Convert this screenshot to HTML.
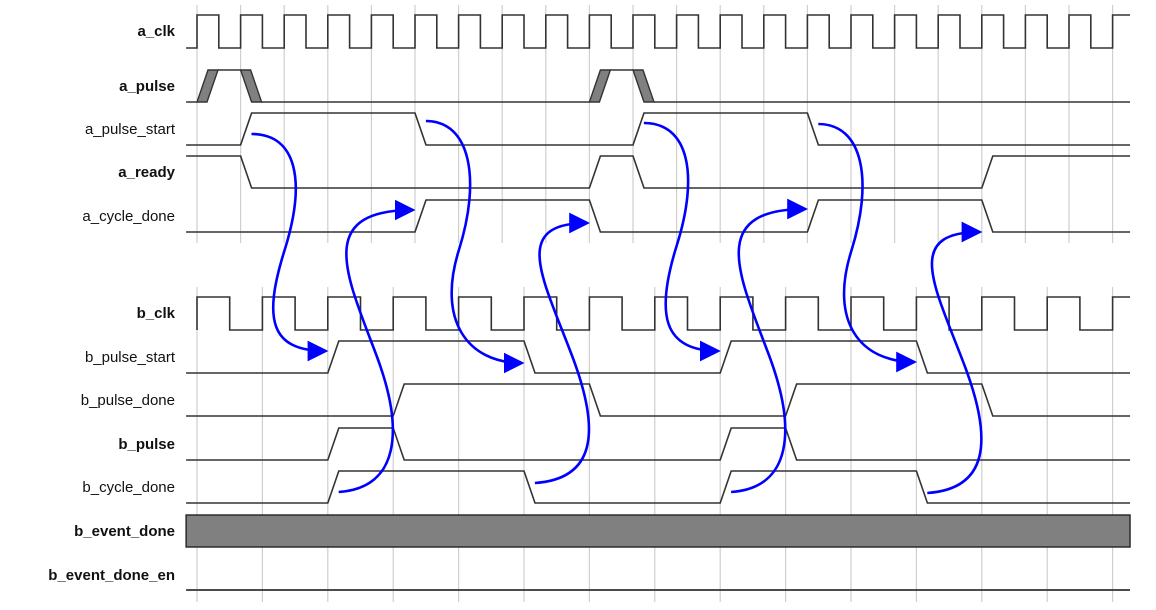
<!DOCTYPE html>
<html><head><meta charset="utf-8"><style>
html,body{margin:0;padding:0;background:#fff;width:1156px;height:610px;overflow:hidden}
svg{display:block}
text{font-family:"Liberation Sans",Arial,sans-serif;font-size:15px;fill:#111}
</style></head><body>
<svg id="chart" width="1156" height="610" xmlns="http://www.w3.org/2000/svg">
<defs><marker id="ah" markerWidth="8" markerHeight="8" refX="7" refY="4" orient="auto" markerUnits="strokeWidth"><path d="M0,0 L8,4 L0,8 z" fill="#0000ff"/></marker></defs>
<g id="grid"></g><g id="waves"></g><g id="labels"></g><g id="arrows"></g>
</svg>
<script>
// time unit = half a_clk period
const signalNames = ["a_clk","a_pulse","a_pulse_start","a_ready","a_cycle_done","b_clk","b_pulse_start","b_pulse_done","b_pulse","b_cycle_done","b_event_done","b_event_done_en"];
const boldSignals = ["a_clk","a_pulse","a_ready","b_clk","b_pulse","b_event_done","b_event_done_en"];
const aPulseStartEdges = [2,10,20,28];
const aReadyEdges = [2,18,20,36];
const aCycleDoneEdges = [10,18,28,36];
const aPulseEdges = [0,2,18,20];
const bPulseStartEdges = [6,15,24,33];
const bPulseDoneEdges = [9,18,27,36];
const bPulseEdges = [6,9,24,27];
const bCycleDoneEdges = [6,15,24,33];
const arrowsFrom = [[2.5,134],[10.5,121],[6.5,492],[15.5,483],[20.5,123],[28.5,124],[24.5,492],[33.5,493]];
const arrowsTo = [[6,351],[15,363],[10,210],[18,223],[24,351],[33,362],[28,209],[36,232]];

const NS="http://www.w3.org/2000/svg";
const X0=197, U=21.8, TEND=42.8, TSTART=-0.5, TR=11;
const x=t=>X0+t*U;
function el(tag,attrs,parent){const e=document.createElementNS(NS,tag);for(const k in attrs)e.setAttribute(k,attrs[k]);parent.appendChild(e);return e;}
const grid=document.getElementById('grid'),waves=document.getElementById('waves'),labels=document.getElementById('labels'),arrows=document.getElementById('arrows');
const levels={a_clk:[15,48],a_pulse:[70,102],a_pulse_start:[113,145],a_ready:[156,188],a_cycle_done:[200,232],b_clk:[297,330],b_pulse_start:[341,373],b_pulse_done:[384,416],b_pulse:[428,460],b_cycle_done:[471,503],b_event_done:[515,547],b_event_done_en:[590,590]};
const labelY={a_clk:31,a_pulse:86,a_pulse_start:129,a_ready:172,a_cycle_done:216,b_clk:313,b_pulse_start:357,b_pulse_done:400,b_pulse:444,b_cycle_done:487,b_event_done:531,b_event_done_en:575};

for(let t=0;t<=42;t+=2){const l=el('line',{x1:x(t),x2:x(t),y1:5,y2:243,stroke:'#cfcfcf','stroke-width':1.2},grid);

}
for(let t=0;t<=42;t+=3){const l=el('line',{x1:x(t),x2:x(t),y1:287,y2:602,stroke:'#cfcfcf','stroke-width':1.2},grid);

}

signalNames.forEach(n=>{const tx=el('text',{x:175,y:labelY[n]+5,'text-anchor':'end','font-weight':boldSignals.includes(n)?'bold':'normal'},labels);tx.textContent=n;

});

function clock(name,half,startX){const [h,lo]=levels[name];let d=`M${startX},${lo}`;let v=0;
for(let t=0;t<TEND;t+=half){d+=` L${x(t)},${v?h:lo} L${x(t)},${v?lo:h}`;v=1-v;}
d+=` L${x(TEND)},${v?h:lo}`;const p=el('path',{d,fill:'none',stroke:'#333','stroke-width':1.6},waves);

}
clock('a_clk',1,x(TSTART));
clock('b_clk',1.5,x(0));

function wave(name,init,edges){const [h,lo]=levels[name];let v=init;let d=`M${x(TSTART)},${v?h:lo}`;
edges.forEach(t=>{d+=` L${x(t)},${v?h:lo} L${x(t)+TR},${v?lo:h}`;v=1-v;});
d+=` L${x(TEND)},${v?h:lo}`;const p=el('path',{d,fill:'none',stroke:'#333','stroke-width':1.6},waves);

}
wave('a_pulse_start',0,aPulseStartEdges);
wave('a_ready',1,aReadyEdges);
wave('a_cycle_done',0,aCycleDoneEdges);
wave('b_pulse_start',0,bPulseStartEdges);
wave('b_pulse_done',0,bPulseDoneEdges);
wave('b_pulse',0,bPulseEdges);
wave('b_cycle_done',0,bCycleDoneEdges);

(function(){const [h,lo]=levels.a_pulse;let v=0;let d=`M${x(TSTART)},${lo}`;
aPulseEdges.forEach(t=>{const a=x(t);
const poly=v?`${a},${h} ${a+10},${h} ${a+21},${lo} ${a+11},${lo}`:`${a},${lo} ${a+10},${lo} ${a+21},${h} ${a+11},${h}`;
const g=el('polygon',{points:poly,fill:'#808080',stroke:'#333','stroke-width':1.4},waves);


d+=` L${a},${v?h:lo} M${a+21},${v?lo:h}`;v=1-v;});
d+=` L${x(TEND)},${v?h:lo}`;
const p=el('path',{d,fill:'none',stroke:'#333','stroke-width':1.6},waves);

})();

(function(){const [h,lo]=levels.b_event_done;const r=el('rect',{x:x(TSTART),y:h,width:x(TEND)-x(TSTART),height:lo-h,fill:'#808080',stroke:'#222','stroke-width':1.4},waves);


const p=el('line',{x1:x(TSTART),x2:x(TEND),y1:590,y2:590,stroke:'#333','stroke-width':1.8},waves);

})();

arrowsFrom.forEach((f,i)=>{const sx=x(f[0]),sy=f[1],tx=x(arrowsTo[i][0])-2,ty=arrowsTo[i][1];
let d;
if(ty>sy){
 const px=sx+33, py=(sy+ty)/2+8;
 d=`M${sx},${sy} C${sx+45},${sy} ${px+22},${py-70} ${px},${py} C${px-22},${py+70} ${tx-55},${ty} ${tx},${ty}`;
}else{
 const px=sx+38, py=(sy+ty)/2+5;
 d=`M${sx},${sy} C${sx+60},${sy-4} ${px+28},${py+75} ${px},${py} C${px-30},${py-80} ${sx-25},${ty} ${tx},${ty}`;
}
const p=el('path',{d,fill:'none',stroke:'#0000ff','stroke-width':2.6,'marker-end':'url(#ah)'},arrows);

});
</script>
</body></html>
